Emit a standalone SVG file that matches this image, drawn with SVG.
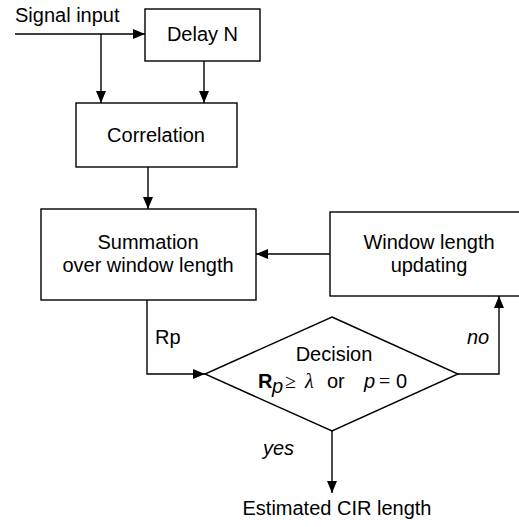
<svg xmlns="http://www.w3.org/2000/svg" width="519" height="527" viewBox="0 0 519 527">
<style>
text{font-family:"Liberation Sans",Arial,sans-serif;font-size:20px;fill:#000}
.box{fill:#fff;stroke:#000;stroke-width:1.4}
.ln{fill:none;stroke:#000;stroke-width:1.4}
.c{text-anchor:middle}
.it{font-style:italic}
.sym{font-family:"Liberation Serif","Times New Roman",serif}
</style>
<defs>
<marker id="ah" markerWidth="12" markerHeight="10" refX="12" refY="5" orient="auto" markerUnits="userSpaceOnUse">
<path d="M0,0 L12,5 L0,10 Z" fill="#000"/>
</marker>
</defs>
<rect width="519" height="527" fill="#fff"/>
<g id="connectors">
<path class="ln" d="M15,34 H145" marker-end="url(#ah)"/>
<path class="ln" d="M101,34 V103" marker-end="url(#ah)"/>
<path class="ln" d="M204,61 V103" marker-end="url(#ah)"/>
<path class="ln" d="M148,167 V209" marker-end="url(#ah)"/>
<path class="ln" d="M330,254 H256" marker-end="url(#ah)"/>
<path class="ln" d="M147,300 V374 H205" marker-end="url(#ah)"/>
<path class="ln" d="M458,374 H499 V296" marker-end="url(#ah)"/>
<path class="ln" d="M332,431 V493" marker-end="url(#ah)"/>
</g>
<g id="signal-input"><text x="15" y="22">Signal input</text></g>
<g id="delay"><rect class="box" x="145" y="9" width="115" height="52"/><text class="c" x="202.5" y="41">Delay N</text></g>
<g id="correlation"><rect class="box" x="76" y="103" width="161" height="64"/><text class="c" x="156" y="142">Correlation</text></g>
<g id="summation"><rect class="box" x="41" y="209" width="215" height="91"/><text class="c" x="148" y="249">Summation</text><text class="c" x="148" y="272">over window length</text></g>
<g id="window-update"><rect class="box" x="330" y="212" width="200" height="84"/><text class="c" x="429" y="249">Window length</text><text class="c" x="429" y="272">updating</text></g>
<g id="decision">
<path class="ln" d="M332,317 L458,374 L332,431 L205,374 Z" fill="#fff"/>
<text class="c" x="334" y="361">Decision</text>
<text x="258" y="388" font-weight="bold">R</text>
<text x="272" y="393" class="it" font-size="14">p</text>
<text x="285" y="388" class="sym" font-size="24">≥</text>
<text x="305" y="388" class="it sym">λ</text>
<text x="327" y="388">or</text>
<text x="364" y="388" class="it">p</text>
<text x="379" y="388" class="sym" font-size="22">=</text>
<text x="396" y="388">0</text>
</g>
<g id="labels">
<text x="155" y="344">Rp</text>
<text x="467" y="344" class="it">no</text>
<text x="263" y="455" class="it">yes</text>
</g>
<g id="output"><text class="c" x="337" y="515">Estimated CIR length</text></g>
</svg>
